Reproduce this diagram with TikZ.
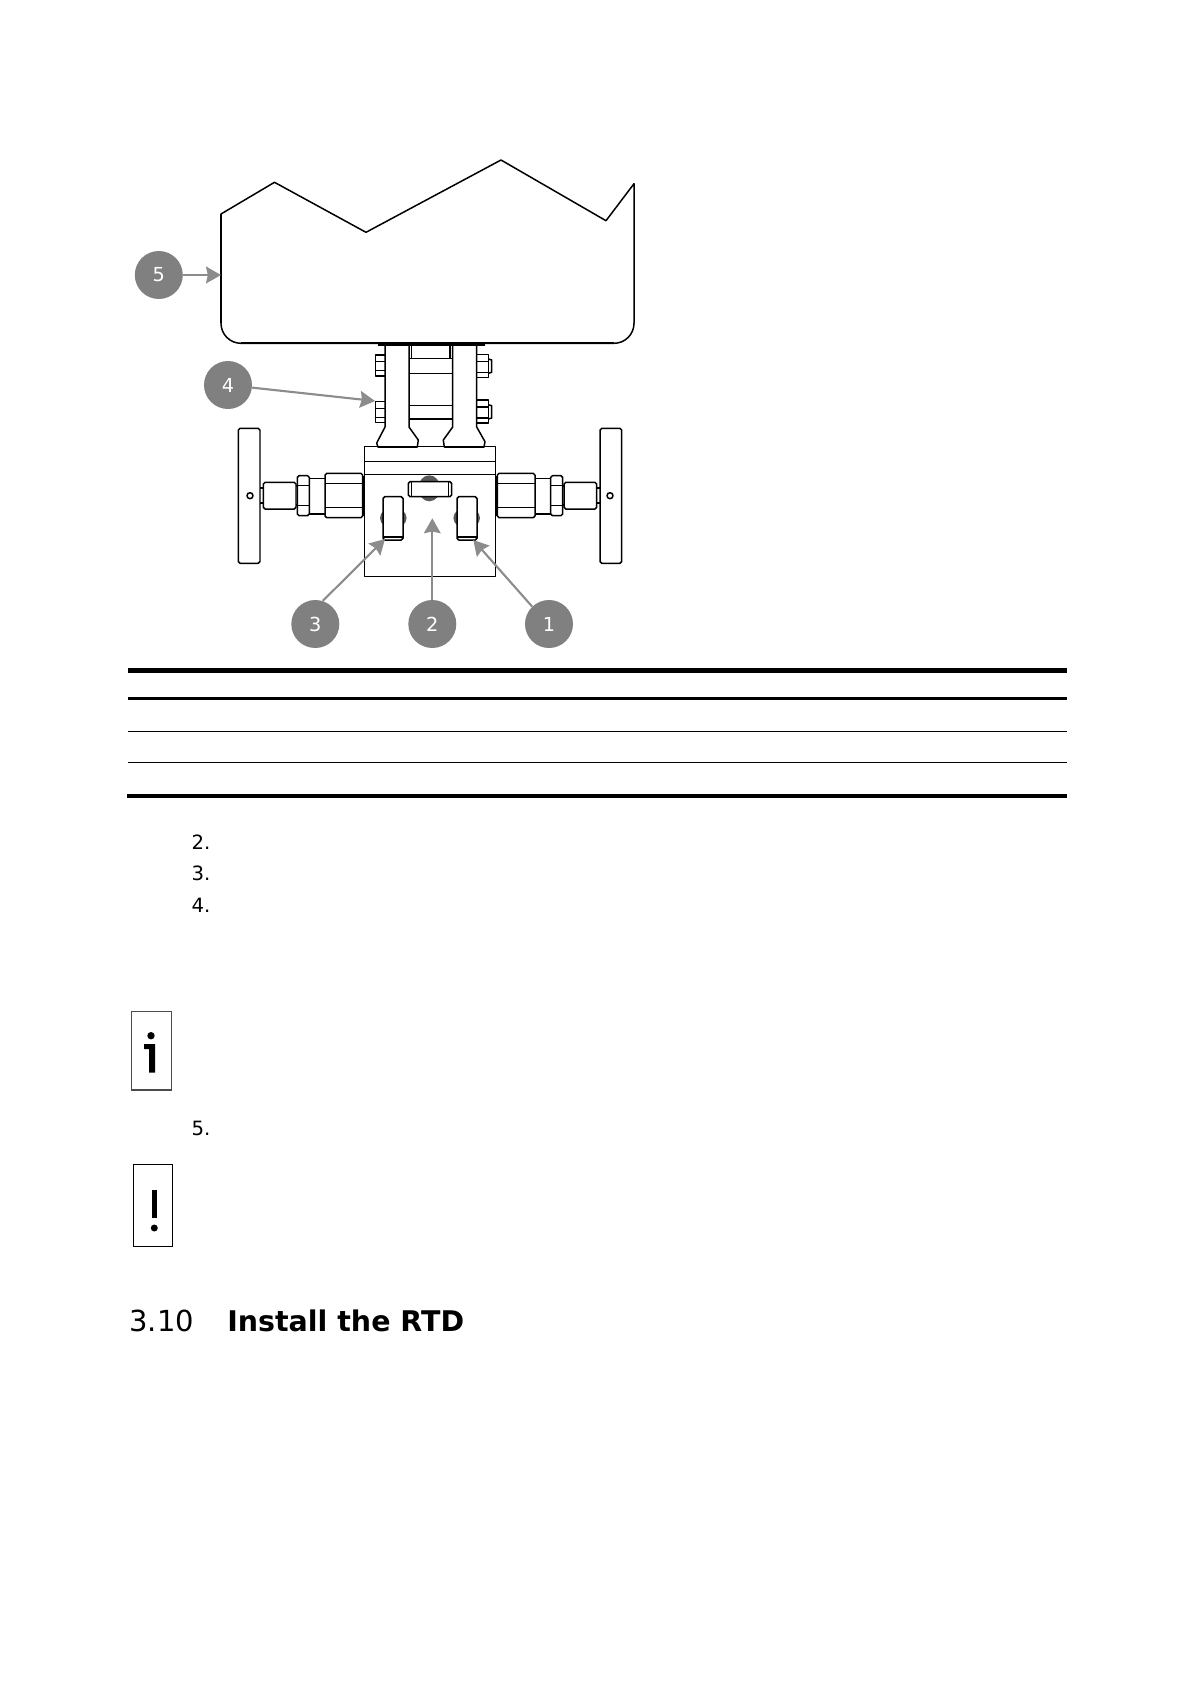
\documentclass[tikz,border=0pt]{standalone}
\usepackage{fontspec}
\setmainfont{DejaVu Sans}
\usetikzlibrary{arrows.meta}
\definecolor{calloutgray}{HTML}{808080}
\tikzset{
  callout/.style={circle, fill=calloutgray, text=white, minimum size=0.96cm, inner sep=0pt, font=\fontsize{11}{13}\selectfont},
  pointer/.style={draw=black!45, line width=1.2pt, -{Stealth[length=8.5pt,width=9.5pt,inset=1pt]}},
  part/.style={draw=black, line width=0.85pt, line join=round},
  liner/.style={black, line width=#1},
  stepnum/.style={anchor=base west, inner sep=0pt, font=\fontsize{11.2}{13}\selectfont},
  notebox/.style={line width=0.6pt}
}
\begin{document}
\begin{tikzpicture}[x=0.02cm, y=-0.02cm]
    \useasboundingbox (0,0) rectangle (1191,1684);
    \fill[white] (0,0) rectangle (1191,1684);

    % transmitter housing
    \draw[part] (221,214) -- (274.5,182.3) -- (366,232.3) -- (501,160) -- (606,220.7) -- (634,183.7)
        -- (634,323.3) arc (0:90:20) -- (241,343.3) arc (90:180:20) -- cycle;
    \draw[part, line width=1.2pt] (221,214) -- (221,323.3) (241,343.3) -- (614,343.3);

    % flange legs and centre block
    \draw[part, line width=1.6pt] (378,344.7) -- (485,344.7);
    \draw[part] (385,345) -- (385,427) -- (376.7,443) -- (378,447) -- (417.3,447) -- (418.3,440) -- (409,427) -- (409,345);
    \draw[part] (476.7,345) -- (476.7,427) -- (485,441.7) -- (484,447) -- (444.3,447) -- (443.3,440) -- (452.7,427) -- (452.7,345);
    \draw[part] (411.7,345) -- (411.7,358.3) (450,345) -- (450,358.3);
    \foreach \ya in {358.3, 373.3, 405.7, 419}
        \draw[part] (409,\ya) -- (452.7,\ya);

    % bolts
    \foreach \yb in {355, 401.7} {
        \draw[part] (385,\yb) -- (375.7,\yb) -- (375.7,\yb+21) -- (385,\yb+21);
        \draw[part] (375.7,\yb+6.7) -- (385,\yb+6.7) (375.7,\yb+15.7) -- (385,\yb+15.7);
    }
    \foreach \yb in {354.3, 400} {
        \draw[part] (476.7,\yb) -- (488.3,\yb) -- (488.3,\yb+23) -- (476.7,\yb+23);
        \draw[part] (476.7,\yb+7) -- (488.3,\yb+7) (476.7,\yb+18) -- (488.3,\yb+18);
        \draw[part] (488.3,\yb+4.7) -- (491.7,\yb+5.7) -- (491.7,\yb+18) -- (488.3,\yb+19);
    }

    % manifold body
    \draw[part] (364.3,446.7) rectangle (495.7,576.7);
    \draw[part] (364.3,461.7) -- (495.7,461.7);
    \draw[part] (364.3,474.3) -- (495.7,474.3);

    % side valves
    \foreach \m in {1,-1} {
        \begin{scope}[shift={(430,0)}, xscale=\m]
            \draw[part, rounded corners=1pt] (-191.7,428.3) rectangle (-170,563.3);
            \draw[part] (-180,495.7) circle (3);
            \draw[part] (-170,488) -- (-166.7,488) -- (-166.7,503) -- (-170,503);
            \draw[part, rounded corners=1pt] (-166.7,482.3) rectangle (-134,509);
            \draw[part, rounded corners=1pt] (-132.7,475.7) rectangle (-120.7,515.7);
            \draw[part] (-132.7,485.7) -- (-120.7,485.7) (-132.7,505.7) -- (-120.7,505.7);
            \draw[part] (-134,486) -- (-132.7,486) (-134,505) -- (-132.7,505);
            \draw[part] (-120.7,478.3) -- (-105,478.3) (-120.7,514) -- (-105,514);
            \draw[part, rounded corners=1pt] (-105,473.3) rectangle (-67.3,517.7);
            \draw[part] (-105,483.3) -- (-67.3,483.3) (-105,507.7) -- (-67.3,507.7);
            \draw[part, line width=1.2pt] (-66.5,476) -- (-66.5,516);
        \end{scope}
    }

    % front knobs
    \fill[black!65] (429.3,488.3) ellipse (11 and 13);
    \draw[part, fill=white, rounded corners=1pt] (408.3,481.7) rectangle (451.7,496.7);
    \draw[part] (411.5,481.7) -- (411.5,496.7) (448.5,481.7) -- (448.5,496.7);
    \foreach \xk/\xc in {383/393.3, 457/466.7} {
        \fill[black!65] (\xc,518) ellipse (13.3 and 10.5);
        \draw[part, fill=white, rounded corners=1pt] (\xk,496.7) rectangle (\xk+20,540);
        \draw[part] (\xk,537) -- (\xk+20,537);
    }

    % callouts
    \coordinate (t5) at (221,275);
    \coordinate (t4) at (375,401);
    \coordinate (t3) at (385,539);
    \coordinate (t2) at (432.3,518.3);
    \coordinate (t1) at (473.3,540);
    \node[callout] (c5) at (158.8,275) {5};
    \node[callout] (c4) at (228,385) {4};
    \node[callout] (c3) at (315.3,624) {3};
    \node[callout] (c2) at (432.3,624) {2};
    \node[callout] (c1) at (549,624) {1};
    \draw[pointer] (c5) -- (t5);
    \draw[pointer] (c4) -- (t4);
    \draw[pointer] (c3.72) -- (t3);
    \draw[pointer] (c2) -- (t2);
    \draw[pointer] (c1.134) -- (t1);

    % table rules
    \draw[liner=2.9pt] (128,670.3) -- (1066.7,670.3);
    \draw[liner=1.8pt] (128,698.3) -- (1066.7,698.3);
    \draw[liner=0.6pt] (128,731.3) -- (1066.7,731.3);
    \draw[liner=0.6pt] (128,762.3) -- (1066.7,762.3);
    \draw[liner=2.4pt] (127,796) -- (1066.7,796);

    % step numbers
    \node[stepnum] (n2) at (191.3,849.3) {2.};
    \node[stepnum] (n3) at (191.3,880.7) {3.};
    \node[stepnum] (n4) at (191.3,912) {4.};
    \node[stepnum] (n5) at (191.3,1135) {5.};

    % note icons
    \draw[notebox, draw=black!70] (131.7,1011.3) rectangle (171.7,1090);
    \fill (151,1035.7) circle (3.7);
    \fill (144,1044) -- (155,1044) -- (155,1072.7) -- (149,1072.7) -- (149,1049) -- (144,1049) -- cycle;
    \draw[notebox] (133.3,1164.3) rectangle (172.3,1246.3);
    \fill (151.7,1190) rectangle (157,1218.3);
    \fill (154.3,1228) circle (3.5);

    % section heading
    \node[anchor=base west, inner sep=0pt, font=\fontsize{16.5}{20}\selectfont] (secnum) at (129,1331) {3.10};
    \node[anchor=base west, inner sep=0pt, font=\fontsize{16.2}{20}\selectfont\bfseries] (sectitle) at (227,1331) {Install the RTD};
\end{tikzpicture}
\end{document}
